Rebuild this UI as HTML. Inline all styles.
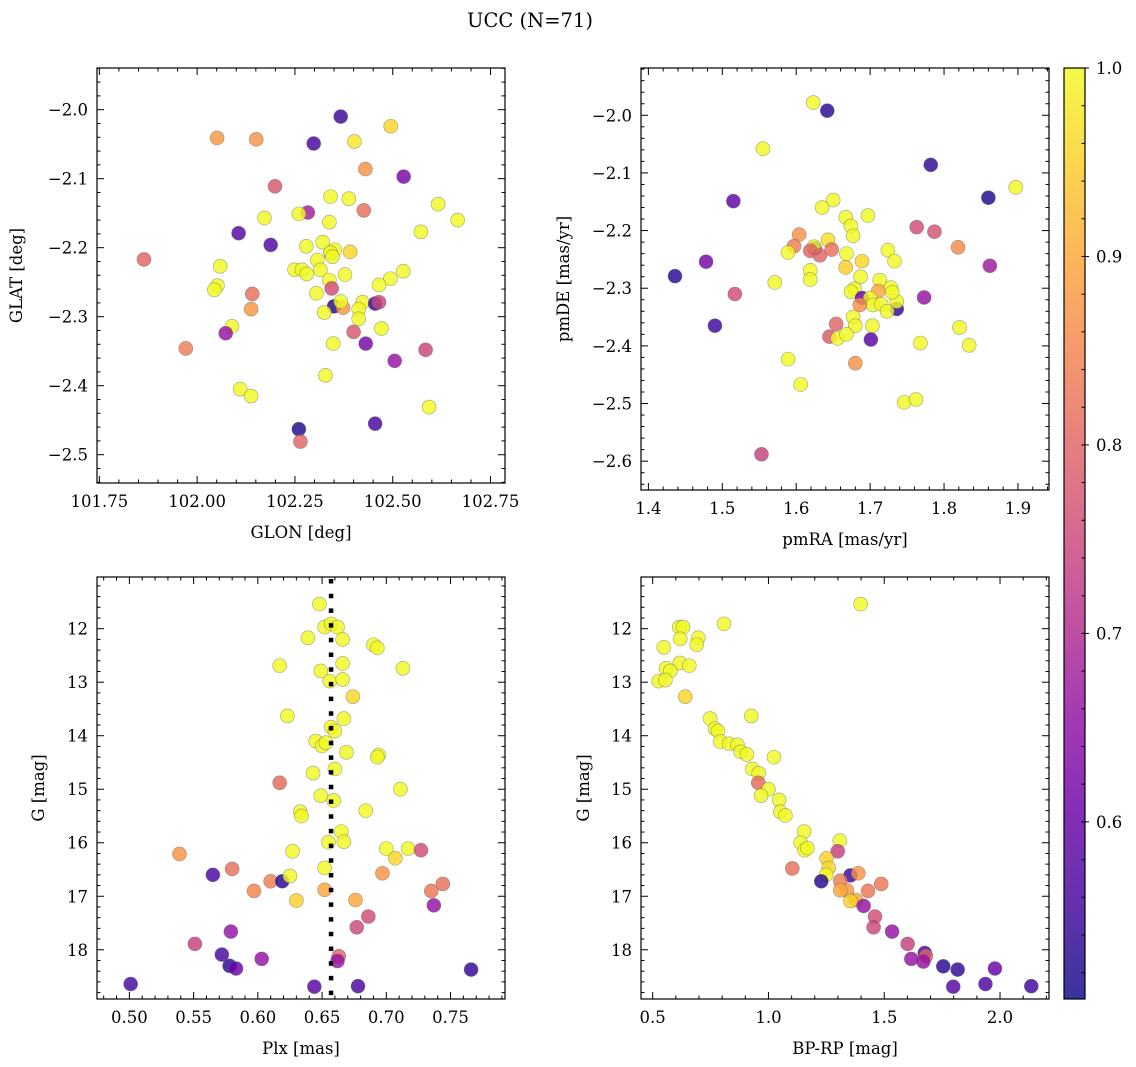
<!DOCTYPE html>
<html><head><meta charset="utf-8"><style>
html,body{margin:0;padding:0;background:#fff;}
svg{display:block;font-family:"DejaVu Serif","Liberation Serif",serif;}
</style></head><body>
<svg id="fig" width="1136" height="1067" viewBox="0 0 1136 1067" xmlns="http://www.w3.org/2000/svg">
<text x="530" y="27" font-size="19.5" text-anchor="middle">UCC (N=71)</text>
</svg>
<script>
// ---- data: top-left (GLON/GLAT)
const tlGlon=[102.367,102.495,102.051,102.151,102.298,102.402,102.430,102.528,102.199,102.341,102.388,102.616,102.426,102.283,102.260,102.172,102.338,102.666,102.572,102.106,102.188,102.279,102.321,102.352,102.341,102.391,101.864,102.307,102.059,102.249,102.268,102.315,102.280,102.378,102.527,102.494,102.465,102.338,102.344,102.052,102.044,102.141,102.305,102.350,102.373,102.367,102.325,102.423,102.413,102.413,102.455,102.465,102.138,102.089,102.073,102.471,102.400,101.971,102.348,102.431,102.584,102.505,102.328,102.110,102.138,102.593,102.455,102.260,102.264,102.341,102.346];
const tlGlat=[-2.010,-2.024,-2.041,-2.043,-2.049,-2.046,-2.086,-2.097,-2.111,-2.126,-2.129,-2.137,-2.146,-2.149,-2.151,-2.157,-2.163,-2.160,-2.177,-2.179,-2.196,-2.198,-2.192,-2.203,-2.208,-2.206,-2.217,-2.218,-2.227,-2.232,-2.232,-2.232,-2.238,-2.239,-2.234,-2.245,-2.254,-2.247,-2.259,-2.255,-2.261,-2.267,-2.266,-2.285,-2.287,-2.278,-2.294,-2.279,-2.289,-2.303,-2.281,-2.279,-2.289,-2.314,-2.324,-2.317,-2.322,-2.346,-2.339,-2.339,-2.348,-2.364,-2.385,-2.405,-2.415,-2.431,-2.455,-2.463,-2.481,-2.207,-2.213];
const tlProb=[0.55,0.96,0.88,0.87,0.56,0.98,0.87,0.62,0.78,1,1,1,0.82,0.68,1,1,1,1,1,0.58,0.57,1,1,1,1,0.96,0.80,1,1,1,1,1,1,1,1,1,1,1,0.76,1,1,0.82,1,0.52,0.88,1,1,1,1,1,0.54,0.75,0.88,1,0.66,1,0.78,0.84,1,0.62,0.75,0.66,1,1,1,1,0.56,0.52,0.80,1,1];
// ---- data: top-right (pmRA/pmDE)
const trPmra=[1.623,1.642,1.555,1.782,1.897,1.860,1.515,1.650,1.635,1.697,1.667,1.674,1.677,1.763,1.787,1.604,1.597,1.643,1.625,1.624,1.619,1.632,1.648,1.589,1.668,1.724,1.733,1.819,1.478,1.689,1.667,1.862,1.436,1.619,1.619,1.687,1.571,1.713,1.728,1.517,1.679,1.674,1.689,1.711,1.700,1.704,1.686,1.715,1.736,1.736,1.723,1.773,1.490,1.677,1.680,1.654,1.703,1.821,1.645,1.656,1.668,1.701,1.768,1.834,1.589,1.680,1.606,1.746,1.762,1.553,1.730];
const trPmde=[-1.978,-1.992,-2.058,-2.086,-2.125,-2.143,-2.149,-2.147,-2.160,-2.174,-2.177,-2.192,-2.209,-2.194,-2.202,-2.207,-2.227,-2.216,-2.231,-2.228,-2.235,-2.243,-2.233,-2.238,-2.240,-2.234,-2.253,-2.229,-2.254,-2.253,-2.264,-2.261,-2.279,-2.269,-2.285,-2.280,-2.290,-2.286,-2.299,-2.310,-2.301,-2.306,-2.317,-2.305,-2.317,-2.329,-2.329,-2.328,-2.336,-2.323,-2.340,-2.316,-2.365,-2.350,-2.365,-2.362,-2.365,-2.368,-2.384,-2.387,-2.380,-2.389,-2.395,-2.399,-2.423,-2.430,-2.467,-2.498,-2.493,-2.588,-2.307];
const trProb=[1,0.53,1,0.54,1,0.52,0.59,1,1,1,1,1,1,0.76,0.77,0.87,0.84,0.97,0.55,1,0.80,0.80,0.82,1,1,1,1,0.86,0.62,0.96,0.95,0.67,0.53,1,1,1,1,1,1,0.76,1,1,0.60,0.90,1,1,0.87,1,0.54,1,1,0.66,0.55,1,1,0.80,1,1,0.78,1,1,0.58,1,1,1,0.87,1,1,1,0.74,1];
// ---- data: bottom-left (Plx/G)
const blPlx=[0.648,0.652,0.657,0.662,0.639,0.666,0.690,0.693,0.617,0.649,0.666,0.713,0.656,0.666,0.674,0.623,0.667,0.657,0.660,0.645,0.650,0.653,0.669,0.694,0.693,0.660,0.643,0.617,0.711,0.649,0.659,0.633,0.634,0.684,0.665,0.655,0.667,0.539,0.627,0.700,0.717,0.727,0.707,0.565,0.580,0.652,0.697,0.610,0.619,0.625,0.597,0.652,0.735,0.744,0.630,0.676,0.737,0.686,0.677,0.579,0.551,0.572,0.603,0.578,0.583,0.663,0.662,0.766,0.501,0.644,0.678];
const blG=[11.54,11.97,11.91,11.97,12.17,12.20,12.30,12.36,12.69,12.79,12.65,12.74,12.98,12.95,13.27,13.63,13.68,13.84,13.91,14.10,14.19,14.13,14.31,14.36,14.40,14.62,14.70,14.88,15.00,15.12,15.21,15.42,15.50,15.40,15.79,15.99,15.98,16.21,16.16,16.11,16.11,16.14,16.29,16.60,16.49,16.47,16.57,16.72,16.72,16.62,16.90,16.88,16.90,16.77,17.08,17.07,17.17,17.38,17.58,17.66,17.89,18.09,18.17,18.30,18.35,18.12,18.21,18.37,18.64,18.69,18.68];
const blProb=[1,1,1,1,1,1,1,1,1,1,1,1,1,1,0.96,1,1,1,1,1,1,1,1,1,1,1,1,0.81,1,1,1,1,1,1,1,1,1,0.87,1,1,1,0.76,0.96,0.56,0.82,1,0.87,0.84,0.53,1,0.85,0.90,0.83,0.82,0.95,0.90,0.66,0.76,0.75,0.66,0.74,0.56,0.66,0.53,0.60,0.80,0.66,0.54,0.56,0.58,0.56];
const blPlxMean=[0.657];
// ---- data: bottom-right (BP-RP/G)
const brBprp=[1.398,0.808,0.615,0.631,0.619,0.697,0.690,0.548,0.558,0.617,0.658,0.576,0.526,0.555,0.641,0.926,0.748,0.769,0.782,0.792,0.830,0.866,0.880,0.907,1.024,0.930,0.958,0.956,1.000,0.968,1.046,1.051,1.073,1.154,1.139,1.156,1.168,1.308,1.299,1.251,1.260,1.103,1.249,1.228,1.354,1.388,1.310,1.339,1.310,1.430,1.487,1.378,1.354,1.411,1.460,1.454,1.534,1.601,1.675,1.680,1.617,1.669,1.755,1.817,1.978,1.798,1.937,2.135];
const brG=[11.54,11.91,11.97,11.97,12.19,12.17,12.30,12.35,12.74,12.64,12.69,12.79,12.98,12.96,13.27,13.63,13.68,13.87,13.91,14.11,14.15,14.17,14.30,14.35,14.40,14.62,14.70,14.88,15.00,15.12,15.20,15.42,15.49,15.79,16.00,16.14,16.10,15.96,16.16,16.29,16.47,16.48,16.60,16.72,16.61,16.57,16.71,16.89,16.89,16.90,16.77,17.07,17.09,17.18,17.38,17.58,17.66,17.89,18.06,18.12,18.17,18.22,18.31,18.37,18.35,18.69,18.64,18.68];
const brProb=[1,1,1,1,1,1,1,1,1,1,1,1,1,1,0.96,1,1,1,1,1,1,1,1,1,1,1,1,0.81,1,1,1,1,1,1,1,1,1,1,0.74,0.95,0.96,0.82,1,0.53,0.55,0.87,0.84,0.88,0.90,0.83,0.83,0.90,0.95,0.66,0.76,0.75,0.66,0.74,0.56,0.80,0.66,0.66,0.53,0.54,0.60,0.58,0.56,0.55];
// colorbar
const cbTicks=[0.6,0.7,0.8,0.9,1.0];
const cbMin=0.506, cbMax=1.0;

const NS="http://www.w3.org/2000/svg";
const svg=document.getElementById('fig');
function mk(tag,attrs,parent){const e=document.createElementNS(NS,tag);for(const k in attrs)e.setAttribute(k,attrs[k]);(parent||svg).appendChild(e);return e;}
const stops=[[13,8,135],[65,4,157],[106,0,168],[143,13,164],[177,42,144],[204,71,120],[225,100,98],[242,132,75],[252,166,54],[252,206,37],[240,249,33]];
function plasma(t){t=Math.max(0,Math.min(1,t));const f=t*10;const i=Math.min(9,Math.floor(f));const r=f-i;const a=stops[i],b=stops[i+1];return 'rgb('+[0,1,2].map(k=>Math.round(a[k]+(b[k]-a[k])*r)).join(',')+')';}
function cnorm(v){return (v-cbMin)/(cbMax-cbMin);}
function fmt(v,d){const s=Math.abs(v).toFixed(d);return (v<-1e-9?'\u2212':'')+s;}

function panel(o){
  const g=mk('g',{});
  
  
  const {L,T,W,H}=o;
  const sx=v=>L+(v-o.x0)/(o.x1-o.x0)*W;
  const sy=o.inv? (v=>T+(v-o.y0)/(o.y1-o.y0)*H) : (v=>T+(o.y1-v)/(o.y1-o.y0)*H);
  const eps=1e-9;
  for(let v=Math.ceil(o.x0/o.xmin-eps)*o.xmin; v<=o.x1+eps; v+=o.xmin){
    const x=sx(v); const maj=Math.abs(Math.round(v/o.xmaj)*o.xmaj-v)<o.xmin/10; const len=maj?7:3.5;
    mk('line',{x1:x,x2:x,y1:T+H,y2:T+H-len,stroke:'#000','stroke-width':1},g);
    mk('line',{x1:x,x2:x,y1:T,y2:T+len,stroke:'#000','stroke-width':1},g);
    if(maj){const t=mk('text',{x:x,y:T+H+24,'font-size':16.5,'text-anchor':'middle'},g);t.textContent=fmt(Math.round(v/o.xmaj)*o.xmaj,o.xd);
      
      }
  }
  for(let v=Math.ceil(o.y0/o.ymin-eps)*o.ymin; v<=o.y1+eps; v+=o.ymin){
    const y=sy(v); const maj=Math.abs(Math.round(v/o.ymaj)*o.ymaj-v)<o.ymin/10; const len=maj?7:3.5;
    mk('line',{x1:L,x2:L+len,y1:y,y2:y,stroke:'#000','stroke-width':1},g);
    mk('line',{x1:L+W,x2:L+W-len,y1:y,y2:y,stroke:'#000','stroke-width':1},g);
    if(maj){const t=mk('text',{x:L-9,y:y+6,'font-size':16.5,'text-anchor':'end'},g);t.textContent=fmt(Math.round(v/o.ymaj)*o.ymaj,o.yd);
      
      }
  }
  const xl=mk('text',{x:L+W/2,y:T+H+55,'font-size':16.5,'text-anchor':'middle'},g);xl.textContent=o.xlab;
  
  
  const yl=mk('text',{x:0,y:0,'font-size':16.5,'text-anchor':'middle',transform:'translate('+o.ylx+','+(T+H/2)+') rotate(-90)'},g);yl.textContent=o.ylab;
  
  
  for(let i=0;i<o.xs.length;i++){
    const c=mk('circle',{cx:sx(o.xs[i]),cy:sy(o.ys[i]),r:7,fill:plasma(cnorm(o.ps[i])),'fill-opacity':0.82,stroke:'#666','stroke-opacity':0.6,'stroke-width':0.6},g);
    
    
  }
  if(o.vline!==undefined){
    const ln=mk('line',{x1:sx(o.vline),x2:sx(o.vline),y1:T+2,y2:T+H,stroke:'#000','stroke-width':4.5,'stroke-dasharray':'4.5 10.2'},g);
    
    
  }
  mk('rect',{x:L,y:T,width:W,height:H,fill:'none',stroke:'#000','stroke-width':1.2},g);
}

panel({name:'glon-glat-panel',L:97,T:68,W:408,H:415,x0:101.744,x1:102.787,y0:-2.541,y1:-1.9396,xmaj:0.25,xmin:0.05,ymaj:0.1,ymin:0.02,xd:2,yd:1,xlab:'GLON [deg]',ylab:'GLAT [deg]',ylx:22,xs:tlGlon,ys:tlGlat,ps:tlProb});
panel({name:'pm-panel',L:641,T:68,W:408,H:422,x0:1.390,x1:1.942,y0:-2.650,y1:-1.918,xmaj:0.1,xmin:0.02,ymaj:0.1,ymin:0.02,xd:1,yd:1,xlab:'pmRA [mas/yr]',ylab:'pmDE [mas/yr]',ylx:569,xs:trPmra,ys:trPmde,ps:trProb});
panel({name:'plx-g-panel',L:97,T:577,W:408,H:422,x0:0.4748,x1:0.7924,y0:11.034,y1:18.92,inv:true,xmaj:0.05,xmin:0.01,ymaj:1,ymin:0.2,xd:2,yd:0,xlab:'Plx [mas]',ylab:'G [mag]',ylx:44,xs:blPlx,ys:blG,ps:blProb,vline:blPlxMean[0]});
panel({name:'cmd-panel',L:641,T:577,W:408,H:422,x0:0.4496,x1:2.2115,y0:11.034,y1:18.92,inv:true,xmaj:0.5,xmin:0.1,ymaj:1,ymin:0.2,xd:1,yd:0,xlab:'BP-RP [mag]',ylab:'G [mag]',ylx:589,xs:brBprp,ys:brG,ps:brProb});

(function(){
  const g=mk('g',{});
  
  
  const L=1064,T=68,W=21,H=931;
  const defs=mk('defs',{},g);
  const lg=mk('linearGradient',{id:'cbg',x1:0,y1:1,x2:0,y2:0},defs);
  for(let i=0;i<=20;i++){mk('stop',{offset:i/20,'stop-color':plasma(i/20),'stop-opacity':0.82},lg);}
  mk('rect',{x:L,y:T,width:W,height:H,fill:'url(#cbg)'},g);
  const sy=v=>T+(cbMax-v)/(cbMax-cbMin)*H;
  for(let v=0.52;v<=1.0001;v+=0.02){const y=sy(v);mk('line',{x1:L+W,x2:L+W-3.5,y1:y,y2:y,stroke:'#000','stroke-width':1},g);}
  cbTicks.forEach(v=>{const y=sy(v);mk('line',{x1:L+W-3,x2:L+W+4,y1:y,y2:y,stroke:'#000','stroke-width':1},g);
    const t=mk('text',{x:L+W+11,y:y+6,'font-size':16.5},g);t.textContent=v.toFixed(1);
    
    });
  mk('rect',{x:L,y:T,width:W,height:H,fill:'none',stroke:'#000','stroke-width':1.2},g);
})();
</script>
</body></html>
